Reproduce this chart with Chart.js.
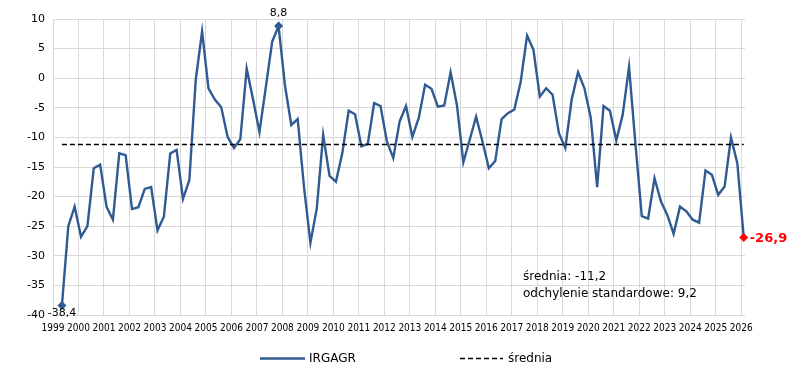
<!DOCTYPE html>
<html>
<head>
<meta charset="utf-8">
<style>
html,body{margin:0;padding:0;background:#fff;}
#wrap{width:800px;height:371px;position:relative;}
</style>
<script src="https://cdn.jsdelivr.net/npm/chart.js@4.4.1/dist/chart.umd.min.js"></script>
</head>
<body>
<div id="wrap"><canvas id="c" width="800" height="371"></canvas></div>
<script>
// ---- data ----
const seriesName = "IRGAGR";
const meanName = "średnia";
const firstPeriod = { year: 1999, quarter: 2 };   // quarterly series, 1999 Q2 .. 2026 Q1
const irgagr = [
  -38.4, -25.0, -21.7, -26.8, -25.0, -15.2, -14.6, -21.7, -23.9, -12.7,
  -13.0, -22.1, -21.8, -18.7, -18.4, -25.7, -23.4, -12.7, -12.1, -20.4,
  -17.2, -0.3, 7.9, -1.7, -3.6, -4.9, -9.9, -11.8, -10.3, 1.6,
  -3.6, -9.1, -1.5, 6.2, 8.8, -1.2, -7.9, -6.9, -18.5, -27.8,
  -22.0, -9.6, -16.5, -17.5, -12.7, -5.5, -6.1, -11.5, -11.1, -4.2,
  -4.7, -10.7, -13.5, -7.3, -4.7, -9.9, -6.7, -1.1, -1.8, -4.8,
  -4.6, 1.0, -4.6, -14.2, -10.4, -6.5, -10.7, -15.2, -14.0, -6.9,
  -5.9, -5.3, -0.6, 7.2, 4.8, -3.1, -1.7, -2.8, -9.3, -11.8,
  -3.6, 1.0, -1.7, -6.7, -18.4, -4.7, -5.5, -10.5, -6.2, 1.9,
  -11.0, -23.3, -23.7, -16.9, -20.8, -23.1, -26.3, -21.7, -22.5, -23.9,
  -24.4, -15.6, -16.3, -19.7, -18.3, -10.0, -14.4, -26.9
];
const meanValue = -11.2;
const stdValue = 9.2;
const yearTicks = [1999,2000,2001,2002,2003,2004,2005,2006,2007,2008,2009,2010,2011,2012,2013,
  2014,2015,2016,2017,2018,2019,2020,2021,2022,2023,2024,2025,2026];
const yTicks = [10, 5, 0, -5, -10, -15, -20, -25, -30, -35, -40];
const labelledPoints = [0, 34, irgagr.length - 1]; // min, max, last

// ---- build ----
const LINE = '#2F5A92';
const qOffset = 0.1;
const xPos = irgagr.map((v, i) => {
  const q = firstPeriod.quarter - 1 + i;
  return firstPeriod.year + Math.floor(q / 4) + (q % 4) / 4 + qOffset;
});
const mainData = irgagr.map((v, i) => ({ x: xPos[i], y: v }));
const meanData = [{ x: xPos[0], y: meanValue }, { x: xPos[xPos.length - 1], y: meanValue }];
const fmt = v => String(v.toFixed(1)).replace('.', ',');
const FONT = '"DejaVu Sans", Verdana, sans-serif';

const annot = {
  id: 'annot',
  afterDatasetsDraw(chart) {
    const ctx = chart.ctx;
    const meta = chart.getDatasetMeta(1);
    ctx.save();
    ctx.textBaseline = 'middle';
    // min label
    let p = meta.data[labelledPoints[0]];
    ctx.font = '11px ' + FONT; ctx.fillStyle = '#000'; ctx.textAlign = 'center';
    ctx.fillText(fmt(irgagr[labelledPoints[0]]), p.x, p.y + 8);
    // max label
    p = meta.data[labelledPoints[1]];
    ctx.fillText(fmt(irgagr[labelledPoints[1]]), p.x, p.y - 13);
    // last label
    p = meta.data[labelledPoints[2]];
    ctx.font = 'bold 13px ' + FONT; ctx.fillStyle = '#FF0000'; ctx.textAlign = 'left';
    ctx.fillText(fmt(irgagr[labelledPoints[2]]), p.x + 6, p.y + 1);
    // stats
    ctx.font = '12px ' + FONT; ctx.fillStyle = '#000'; ctx.textAlign = 'left';
    ctx.fillText('średnia: ' + fmt(meanValue), 523, 277);
    ctx.fillText('odchylenie standardowe: ' + fmt(stdValue), 523, 294);
    // legend
    const ly = 358.5;
    ctx.lineWidth = 2.5; ctx.strokeStyle = LINE;
    ctx.beginPath(); ctx.moveTo(260, ly); ctx.lineTo(305, ly); ctx.stroke();
    ctx.fillText(seriesName, 309, ly);
    ctx.lineWidth = 1.3; ctx.strokeStyle = '#000'; ctx.setLineDash([5, 3]);
    ctx.beginPath(); ctx.moveTo(460, ly); ctx.lineTo(503, ly); ctx.stroke();
    ctx.setLineDash([]);
    ctx.fillText(meanName, 508, ly);
    ctx.restore();
  }
};

new Chart(document.getElementById('c'), {
  type: 'line',
  data: {
    datasets: [
      {
        label: meanName, data: meanData, order: 0,
        borderColor: '#000', borderWidth: 1.4, borderDash: [5, 3],
        pointRadius: 0, fill: false, tension: 0
      },
      {
        label: seriesName, data: mainData, order: 1, clip: false,
        borderColor: LINE, borderWidth: 2.4, tension: 0, fill: false,
        pointStyle: 'rectRot',
        pointRadius: ctx => labelledPoints.includes(ctx.dataIndex) ? 4.5 : 0,
        pointBackgroundColor: ctx => ctx.dataIndex === irgagr.length - 1 ? '#FF0000' : LINE,
        pointBorderColor: ctx => ctx.dataIndex === irgagr.length - 1 ? '#FF0000' : LINE,
        pointBorderWidth: 0
      }
    ]
  },
  options: {
    responsive: false,
    animation: false,
    events: [],
    layout: { padding: { left: 0, right: 55, top: 19, bottom: 36 } },
    plugins: { legend: { display: false }, tooltip: { enabled: false } },
    scales: {
      x: {
        type: 'linear', min: 1999, max: 2026.15,
        afterBuildTicks: s => { s.ticks = yearTicks.map(v => ({ value: v })); },
        afterFit: s => { s.height = 20; },
        grid: { color: '#D9D9D9', lineWidth: 1, drawTicks: false },
        border: { display: false },
        ticks: {
          autoSkip: false, maxRotation: 0, padding: 7, color: '#000',
          font: { family: '"DejaVu Sans Condensed", "Liberation Sans Narrow", sans-serif', size: 10 },
          callback: v => String(v)
        }
      },
      y: {
        min: -40, max: 10,
        afterBuildTicks: s => { s.ticks = yTicks.map(v => ({ value: v })); },
        afterFit: s => { s.width = 53; },
        grid: { color: '#D9D9D9', lineWidth: 1, drawTicks: false },
        border: { display: false },
        ticks: { padding: 8, color: '#000', font: { family: FONT, size: 11 }, callback: v => String(v) }
      }
    }
  },
  plugins: [annot]
});
</script>
</body>
</html>
